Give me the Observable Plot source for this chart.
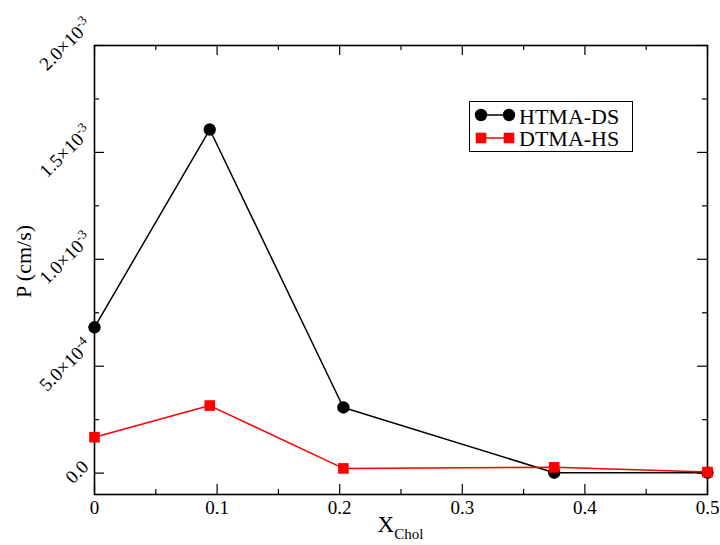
<!DOCTYPE html>
<html>
<head>
<meta charset="utf-8">
<script src="https://cdn.jsdelivr.net/npm/d3@7"></script>
<script src="https://cdn.jsdelivr.net/npm/@observablehq/plot@0.6"></script>
<style>
  html, body { margin: 0; padding: 0; background: white; }
</style>
</head>
<body>
<div id="chart"></div>
<script>
// ---- data ----
const xChol = [0, 0.094, 0.203, 0.375, 0.5];
const htmaDS = [6.82e-4, 1.607e-3, 3.07e-4, 2e-6, 2e-6];
const dtmaHS = [1.68e-4, 3.16e-4, 2.2e-5, 2.7e-5, 5e-6];
const seriesNames = ["HTMA-DS", "DTMA-HS"];
const seriesColors = ["black", "#ff0000"];

const xTicks = [0, 0.1, 0.2, 0.3, 0.4, 0.5];
const xTickLabels = ["0", "0.1", "0.2", "0.3", "0.4", "0.5"];
const xMinorTicks = [0.05, 0.15, 0.25, 0.35, 0.45];
const yTicks = [0, 5e-4, 1e-3, 1.5e-3, 2e-3];
const yTickLabels = ["0.0", "5.0×10^-4", "1.0×10^-3", "1.5×10^-3", "2.0×10^-3"];
const yMinorTicks = [2.5e-4, 7.5e-4, 1.25e-3, 1.75e-3];

const W = 720, H = 545;
const mL = 94, mR = 13, mT = 45, mB = 51;
const pw = W - mL - mR, ph = H - mT - mB;

const rows = [];
xChol.forEach((x, i) => {
  rows.push({series: seriesNames[0], x, y: htmaDS[i]});
});
xChol.forEach((x, i) => {
  rows.push({series: seriesNames[1], x, y: dtmaHS[i]});
});
const s0 = rows.filter(d => d.series === seriesNames[0]);
const s1 = rows.filter(d => d.series === seriesNames[1]);

const font = "'Liberation Serif', 'Times New Roman', Times, 'DejaVu Serif', serif";

const chart = Plot.plot({
  width: W, height: H,
  marginLeft: mL, marginRight: mR, marginTop: mT, marginBottom: mB,
  style: {fontFamily: font, fontSize: "18px", background: "white", color: "black"},
  x: {domain: [0, 0.5], axis: null},
  y: {domain: [-1e-4, 2e-3], axis: null},
  marks: [
    // inward ticks: bottom/top
    Plot.ruleX(xTicks, {x: d => d, insetTop: ph - 10, stroke: "black", strokeWidth: 1.2}),
    Plot.ruleX(xMinorTicks, {x: d => d, insetTop: ph - 5, stroke: "black", strokeWidth: 1.2}),
    Plot.ruleX(xTicks, {x: d => d, insetBottom: ph - 10, stroke: "black", strokeWidth: 1.2}),
    Plot.ruleX(xMinorTicks, {x: d => d, insetBottom: ph - 5, stroke: "black", strokeWidth: 1.2}),
    // inward ticks: left/right
    Plot.ruleY(yTicks, {y: d => d, insetRight: pw - 10, stroke: "black", strokeWidth: 1.2}),
    Plot.ruleY(yMinorTicks, {y: d => d, insetRight: pw - 5, stroke: "black", strokeWidth: 1.2}),
    Plot.ruleY(yTicks, {y: d => d, insetLeft: pw - 10, stroke: "black", strokeWidth: 1.2}),
    Plot.ruleY(yMinorTicks, {y: d => d, insetLeft: pw - 5, stroke: "black", strokeWidth: 1.2}),
    Plot.frame({stroke: "black", strokeWidth: 1.6}),
    // x tick labels
    Plot.text(xTicks, {x: d => d, frameAnchor: "bottom", text: (d, i) => xTickLabels[i], lineAnchor: "top", dy: 6, fontSize: 19, fill: "black"}),
    // y tick labels (rotated)
    Plot.text(yTicks.slice(0, 1), {y: d => d, frameAnchor: "left", text: (d, i) => yTickLabels[i], rotate: -45, textAnchor: "middle", lineAnchor: "middle", dx: -17.5, dy: -1, fontSize: 19, fill: "black"}),
    Plot.text(yTicks.slice(1), {y: d => d, frameAnchor: "left", text: (d, i) => yTickLabels[i + 1], rotate: -45, textAnchor: "middle", lineAnchor: "middle", dx: -29, dy: -1, fontSize: 19, fill: "black"}),
    // series
    Plot.line(s0, {x: "x", y: "y", stroke: seriesColors[0], strokeWidth: 1.5}),
    Plot.dot(s0, {x: "x", y: "y", r: 6.2, fill: seriesColors[0], stroke: "none"}),
    Plot.line(s1, {x: "x", y: "y", stroke: seriesColors[1], strokeWidth: 1.5}),
    Plot.dot(s1, {x: "x", y: "y", r: 6, symbol: "square", fill: seriesColors[1], stroke: "none"})
  ]
});

document.getElementById("chart").appendChild(chart);
const svg = d3.select(chart);

// superscripts in y tick labels
svg.selectAll("text").each(function () {
  const t = d3.select(this);
  const txt = t.text();
  if (txt.includes("^")) {
    const [base, exp] = txt.split("^");
    t.text(null);
    t.append("tspan").text(base);
    t.append("tspan").attr("dy", "-0.55em").attr("font-size", "13px").text(exp);
  }
});

// axis titles
const xt = svg.append("text")
  .attr("x", mL + pw / 2)
  .attr("y", 532)
  .attr("text-anchor", "middle")
  .style("font-family", font)
  .attr("fill", "black");
xt.append("tspan").attr("font-size", "23px").text("X");
xt.append("tspan").attr("font-size", "15px").attr("dy", "0.45em").text("Chol");

svg.append("text")
  .attr("transform", `translate(31,${mT + ph / 2 - 8}) rotate(-90)`)
  .attr("text-anchor", "middle")
  .style("font-family", font)
  .attr("font-size", "22px")
  .attr("fill", "black")
  .text("P (cm/s)");

// legend
const lg = svg.append("g").attr("text-anchor", "start");
lg.append("rect").attr("x", 469.5).attr("y", 101.5).attr("width", 163).attr("height", 50)
  .attr("fill", "white").attr("stroke", "black").attr("stroke-width", 1);
lg.append("line").attr("x1", 481).attr("x2", 509).attr("y1", 115).attr("y2", 115)
  .attr("stroke", seriesColors[0]).attr("stroke-width", 1.5);
[481, 509].forEach(cx => lg.append("circle").attr("cx", cx).attr("cy", 115).attr("r", 6.2).attr("fill", seriesColors[0]));
lg.append("text").attr("x", 519).attr("y", 124).attr("text-anchor", "start").style("font-family", font).attr("font-size", "22px").attr("fill", "black").text(seriesNames[0]);
lg.append("line").attr("x1", 481).attr("x2", 509).attr("y1", 138).attr("y2", 138)
  .attr("stroke", seriesColors[1]).attr("stroke-width", 1.5);
[481, 509].forEach(cx => lg.append("rect").attr("x", cx - 5.3).attr("y", 138 - 5.3).attr("width", 10.6).attr("height", 10.6).attr("fill", seriesColors[1]));
lg.append("text").attr("x", 519).attr("y", 146).attr("text-anchor", "start").style("font-family", font).attr("font-size", "22px").attr("fill", "black").text(seriesNames[1]);
</script>
</body>
</html>
